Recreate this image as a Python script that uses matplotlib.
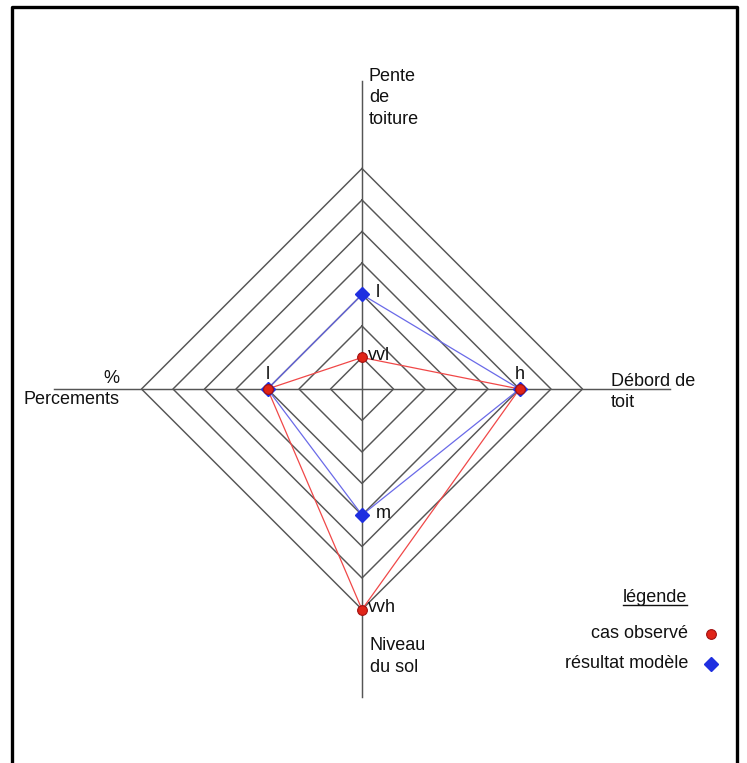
import matplotlib
matplotlib.use("Agg")
import matplotlib.pyplot as plt
from matplotlib.lines import Line2D

plt.rcParams['font.family'] = ['Liberation Sans', 'DejaVu Sans']

# ---- data ----
axis_titles = ["Pente\nde\ntoiture", "Débord de\ntoit", "Niveau\ndu sol", "%\nPercements"]
levels = ["vvl", "vl", "l", "m", "h", "vh", "vvh"]
observed = ["vvl", "h", "vvh", "l"]      # cas observé
model = ["l", "h", "m", "l"]             # résultat modèle
legend_title = "légende"
legend_labels = ["cas observé", "résultat modèle"]

# ---- layout ----
W, H = 747, 763
cx, cy, u = 362, 389, 31.5
dirs = [(0, 1), (1, 0), (0, -1), (-1, 0)]
grid_col = "#555555"
red_line, red_mark = "#f04848", "#e02418"
blue_line, blue_mark = "#6a6ae8", "#1f2fe0"
fs = 13
ls_ = 1.36

fig = plt.figure(figsize=(W / 100, H / 100), dpi=100)
ax = fig.add_axes([0, 0, 1, 1])
ax.set_xlim(-cx / u, (W - cx) / u)
ax.set_ylim(-(H - cy) / u, cy / u)
ax.axis("off")

n = len(levels)
# rings
for r in range(1, n + 1):
    xs = [r * d[0] for d in dirs] + [r * dirs[0][0]]
    ys = [r * d[1] for d in dirs] + [r * dirs[0][1]]
    ax.plot(xs, ys, color=grid_col, lw=1.05, zorder=1)
# axes
ext = 9.78
ax.plot([0, 0], [-ext, ext], color=grid_col, lw=1.05, zorder=1)
ax.plot([-ext, ext], [0, 0], color=grid_col, lw=1.05, zorder=1)


def coords(series):
    vals = [levels.index(s) + 1 for s in series]
    xs = [v * d[0] for v, d in zip(vals, dirs)]
    ys = [v * d[1] for v, d in zip(vals, dirs)]
    return vals, xs + [xs[0]], ys + [ys[0]]


mv, mx, my = coords(model)
ov, ox, oy = coords(observed)
ax.plot(mx, my, color=blue_line, lw=0.9, zorder=2)
ax.plot(ox, oy, color=red_line, lw=0.9, zorder=3)
ax.plot(mx[:-1], my[:-1], ls="none", marker="D", ms=7.5, color=blue_mark,
        mec=blue_mark, zorder=4)
ax.plot(ox[:-1], oy[:-1], ls="none", marker="o", ms=7, color=red_mark,
        mec="#a01010", mew=0.8, zorder=5)

# point labels
done = set()
for series, vals, off in ((observed, ov, 0.2), (model, mv, 0.45)):
    for i, (s, v) in enumerate(zip(series, vals)):
        if (i, v) in done:
            continue
        done.add((i, v))
        dx, dy = dirs[i]
        if dx == 0:
            ax.text(off, v * dy + 0.05, s, ha="left", va="center", fontsize=fs,
                    color="#111111", zorder=6)
        else:
            ax.text(v * dx, 0.45, s, ha="center", va="center", fontsize=fs,
                    color="#111111", zorder=6)

# axis titles
ax.text(0.22, 9.24, axis_titles[0], ha="left", va="center", fontsize=fs,
        linespacing=ls_, color="#111111")
ax.text(7.9, -0.1, axis_titles[1], ha="left", va="center", fontsize=fs,
        linespacing=ls_, color="#111111")
ax.text(0.25, -8.5, axis_titles[2], ha="left", va="center", fontsize=fs,
        linespacing=ls_, color="#111111")
ax.text(-7.71, 0.0, axis_titles[3], ha="right", va="center", fontsize=fs,
        linespacing=ls_, multialignment="right", color="#111111")

# legend
def fx(px):
    return px / W


def fy(py):
    return 1 - py / H


lt = fig.text(fx(655), fy(597), legend_title, ha="center", va="center",
              fontsize=fs, color="#111111")
fig.text(fx(688), fy(634), legend_labels[0], ha="right", va="center",
         fontsize=fs, color="#111111")
fig.text(fx(688), fy(664), legend_labels[1], ha="right", va="center",
         fontsize=fs, color="#111111")
ax.plot([(711 - cx) / u], [(cy - 634) / u], marker="o", ms=7, color=red_mark,
        mec="#a01010", mew=0.8, ls="none")
ax.plot([(711 - cx) / u], [(cy - 664) / u], marker="D", ms=7.5, color=blue_mark,
        ls="none")

fig.canvas.draw()
bb = lt.get_window_extent()
ul_y = bb.y0 + 1
fig.add_artist(Line2D([bb.x0 / W, bb.x1 / W], [ul_y / H, ul_y / H],
                      color="#111111", lw=1.0, transform=fig.transFigure))

# frame
fig.add_artist(Line2D([fx(12), fx(12), fx(737), fx(737)],
                      [0, fy(7), fy(7), 0], color="black", lw=2.4,
                      transform=fig.transFigure))

fig.savefig("out.png", dpi=100)
